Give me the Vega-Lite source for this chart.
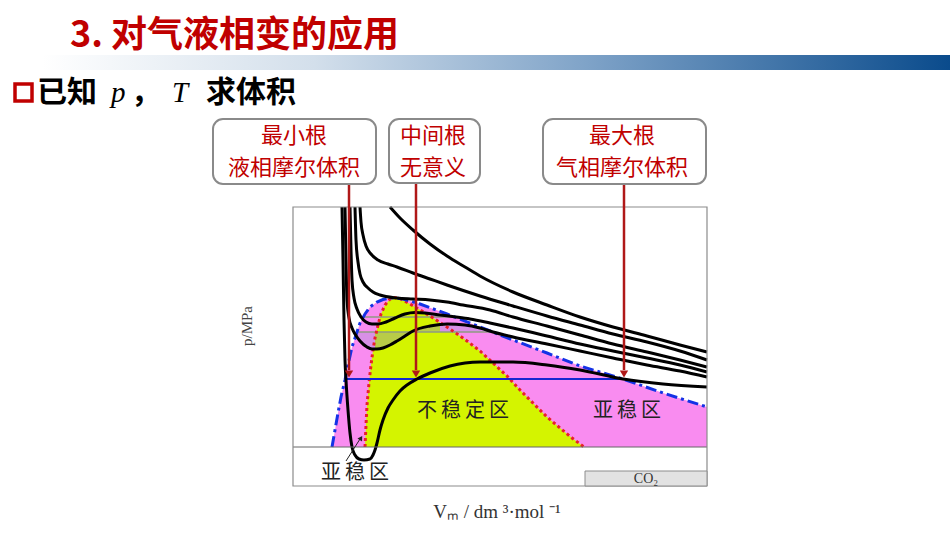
{
  "$schema": "https://vega.github.io/schema/vega-lite/v6.json",
  "width": 950,
  "height": 535,
  "autosize": {"type": "none"},
  "padding": 0,
  "background": "white",
  "config": {"view": {"stroke": null}},
  "datasets": {
    "bar": [{"x": 42, "x2": 950, "y": 55, "y2": 70}],
    "title": [{"x": 70, "y": 36, "t": "3. 对气液相变的应用"}],
    "square": [{"x": 15, "x2": 32, "y": 84, "y2": 101}],
    "subcjk": [{"x": 37, "y": 93, "t": "已知"}, {"x": 131, "y": 93, "t": "，"}, {"x": 206, "y": 93, "t": "求体积"}],
    "subital": [{"x": 111, "y": 93, "t": "p"}, {"x": 172, "y": 93, "t": "T"}],
    "frame": [{"x": 293, "x2": 707, "y": 207, "y2": 486}],
    "env": [
      {"x": 332, "y": 447, "y2": 447}, {"x": 335, "y": 430, "y2": 447}, {"x": 338, "y": 413, "y2": 447},
      {"x": 341, "y": 397, "y2": 447}, {"x": 345, "y": 380, "y2": 447}, {"x": 348, "y": 365, "y2": 447},
      {"x": 352, "y": 347, "y2": 447}, {"x": 357, "y": 332, "y2": 447}, {"x": 360, "y": 323, "y2": 447},
      {"x": 365, "y": 314, "y2": 447}, {"x": 370, "y": 307, "y2": 447}, {"x": 377, "y": 302, "y2": 447},
      {"x": 383, "y": 299.5, "y2": 447}, {"x": 390, "y": 298, "y2": 447}, {"x": 396, "y": 298, "y2": 447},
      {"x": 403, "y": 299, "y2": 447}, {"x": 420, "y": 304, "y2": 447}, {"x": 447, "y": 314, "y2": 447},
      {"x": 480, "y": 327, "y2": 447}, {"x": 513, "y": 340, "y2": 447}, {"x": 547, "y": 353, "y2": 447},
      {"x": 580, "y": 366, "y2": 447}, {"x": 623, "y": 379, "y2": 447}, {"x": 663, "y": 393, "y2": 447},
      {"x": 707, "y": 407, "y2": 447}
    ],
    "spin": [
      {"x": 365, "y": 447, "y2": 447}, {"x": 366, "y": 425, "y2": 447}, {"x": 367, "y": 405, "y2": 447},
      {"x": 369, "y": 383, "y2": 447}, {"x": 371, "y": 365, "y2": 447}, {"x": 373, "y": 350, "y2": 447},
      {"x": 375, "y": 338, "y2": 447}, {"x": 378, "y": 325, "y2": 447}, {"x": 381, "y": 314, "y2": 447},
      {"x": 385, "y": 305, "y2": 447}, {"x": 390, "y": 299, "y2": 447}, {"x": 395, "y": 297.5, "y2": 447},
      {"x": 400, "y": 298.5, "y2": 447}, {"x": 410, "y": 304, "y2": 447}, {"x": 422, "y": 311, "y2": 447},
      {"x": 433, "y": 318, "y2": 447}, {"x": 450, "y": 329, "y2": 447}, {"x": 467, "y": 341, "y2": 447},
      {"x": 480, "y": 351, "y2": 447}, {"x": 493, "y": 363, "y2": 447}, {"x": 507, "y": 376, "y2": 447},
      {"x": 520, "y": 390, "y2": 447}, {"x": 533, "y": 403, "y2": 447}, {"x": 547, "y": 417, "y2": 447},
      {"x": 560, "y": 428, "y2": 447}, {"x": 572, "y": 438, "y2": 447}, {"x": 584, "y": 447, "y2": 447}
    ],
    "hatch": [
      {"seg": "a", "k": "p", "x": 356, "y": 334, "y2": 332}, {"seg": "a", "k": "p", "x": 360, "y": 341, "y2": 332},
      {"seg": "a", "k": "p", "x": 367, "y": 347, "y2": 332}, {"seg": "a", "k": "p", "x": 375, "y": 349, "y2": 332},
      {"seg": "b", "k": "g", "x": 375, "y": 349, "y2": 332}, {"seg": "b", "k": "g", "x": 383, "y": 348, "y2": 332},
      {"seg": "b", "k": "g", "x": 390, "y": 345, "y2": 332}, {"seg": "b", "k": "g", "x": 397, "y": 341, "y2": 332},
      {"seg": "b", "k": "g", "x": 405, "y": 336, "y2": 332}, {"seg": "b", "k": "g", "x": 411, "y": 332, "y2": 332},
      {"seg": "c", "k": "g", "x": 411, "y": 332, "y2": 332}, {"seg": "c", "k": "g", "x": 413, "y": 331, "y2": 332},
      {"seg": "c", "k": "g", "x": 430, "y": 326, "y2": 332}, {"seg": "c", "k": "g", "x": 440, "y": 324.5, "y2": 332},
      {"seg": "d", "k": "p", "x": 440, "y": 324.5, "y2": 332}, {"seg": "d", "k": "p", "x": 447, "y": 324, "y2": 332},
      {"seg": "d", "k": "p", "x": 465, "y": 325, "y2": 332}, {"seg": "d", "k": "p", "x": 480, "y": 328, "y2": 332},
      {"seg": "d", "k": "p", "x": 493, "y": 332, "y2": 332}
    ],
    "maxwell": [{"x": 357, "x2": 493, "y": 332}, {"x": 363, "x2": 456, "y": 317}],
    "blueline": [{"x": 345, "x2": 623, "y": 379}],
    "baseline": [{"x": 293, "x2": 707, "y": 447}],
    "iso": [
      {"iso": 1, "i": 1, "x": 342, "y": 207}, {"iso": 1, "i": 2, "x": 343, "y": 260}, {"iso": 1, "i": 3, "x": 344, "y": 320},
      {"iso": 1, "i": 4, "x": 345, "y": 360}, {"iso": 1, "i": 5, "x": 346, "y": 380}, {"iso": 1, "i": 6, "x": 348, "y": 410},
      {"iso": 1, "i": 7, "x": 350, "y": 433}, {"iso": 1, "i": 8, "x": 352, "y": 447}, {"iso": 1, "i": 9, "x": 355, "y": 455},
      {"iso": 1, "i": 10, "x": 359, "y": 459}, {"iso": 1, "i": 11, "x": 364, "y": 460}, {"iso": 1, "i": 12, "x": 370, "y": 459},
      {"iso": 1, "i": 13, "x": 373, "y": 455}, {"iso": 1, "i": 14, "x": 375, "y": 450}, {"iso": 1, "i": 15, "x": 377, "y": 443},
      {"iso": 1, "i": 16, "x": 380, "y": 430}, {"iso": 1, "i": 17, "x": 383, "y": 420}, {"iso": 1, "i": 18, "x": 388, "y": 408},
      {"iso": 1, "i": 19, "x": 393, "y": 400}, {"iso": 1, "i": 20, "x": 400, "y": 391}, {"iso": 1, "i": 21, "x": 407, "y": 385},
      {"iso": 1, "i": 22, "x": 417, "y": 379}, {"iso": 1, "i": 23, "x": 430, "y": 373}, {"iso": 1, "i": 24, "x": 450, "y": 366},
      {"iso": 1, "i": 25, "x": 480, "y": 362}, {"iso": 1, "i": 26, "x": 513, "y": 362}, {"iso": 1, "i": 27, "x": 547, "y": 365},
      {"iso": 1, "i": 28, "x": 580, "y": 370}, {"iso": 1, "i": 29, "x": 623, "y": 379}, {"iso": 1, "i": 30, "x": 663, "y": 384},
      {"iso": 1, "i": 31, "x": 707, "y": 387},

      {"iso": 2, "i": 1, "x": 345, "y": 207}, {"iso": 2, "i": 2, "x": 346, "y": 260}, {"iso": 2, "i": 3, "x": 347, "y": 300},
      {"iso": 2, "i": 4, "x": 349, "y": 318}, {"iso": 2, "i": 5, "x": 352, "y": 328}, {"iso": 2, "i": 6, "x": 355, "y": 334},
      {"iso": 2, "i": 7, "x": 360, "y": 341}, {"iso": 2, "i": 8, "x": 367, "y": 347}, {"iso": 2, "i": 9, "x": 372, "y": 349},
      {"iso": 2, "i": 10, "x": 377, "y": 349}, {"iso": 2, "i": 11, "x": 383, "y": 348}, {"iso": 2, "i": 12, "x": 390, "y": 345},
      {"iso": 2, "i": 13, "x": 397, "y": 341}, {"iso": 2, "i": 14, "x": 405, "y": 336}, {"iso": 2, "i": 15, "x": 413, "y": 331},
      {"iso": 2, "i": 16, "x": 430, "y": 326}, {"iso": 2, "i": 17, "x": 440, "y": 324.5}, {"iso": 2, "i": 18, "x": 447, "y": 324},
      {"iso": 2, "i": 19, "x": 465, "y": 325}, {"iso": 2, "i": 20, "x": 480, "y": 328}, {"iso": 2, "i": 21, "x": 493, "y": 332},
      {"iso": 2, "i": 22, "x": 513, "y": 337}, {"iso": 2, "i": 23, "x": 547, "y": 344}, {"iso": 2, "i": 24, "x": 580, "y": 351},
      {"iso": 2, "i": 25, "x": 613, "y": 358}, {"iso": 2, "i": 26, "x": 647, "y": 365}, {"iso": 2, "i": 27, "x": 680, "y": 371},
      {"iso": 2, "i": 28, "x": 707, "y": 377},

      {"iso": 3, "i": 1, "x": 350, "y": 207}, {"iso": 3, "i": 2, "x": 351, "y": 250}, {"iso": 3, "i": 3, "x": 352, "y": 280},
      {"iso": 3, "i": 4, "x": 354, "y": 298}, {"iso": 3, "i": 5, "x": 357, "y": 309}, {"iso": 3, "i": 6, "x": 361, "y": 317},
      {"iso": 3, "i": 7, "x": 366, "y": 322}, {"iso": 3, "i": 8, "x": 372, "y": 324}, {"iso": 3, "i": 9, "x": 378, "y": 324},
      {"iso": 3, "i": 10, "x": 386, "y": 322}, {"iso": 3, "i": 11, "x": 395, "y": 318}, {"iso": 3, "i": 12, "x": 405, "y": 314},
      {"iso": 3, "i": 13, "x": 415, "y": 312.5}, {"iso": 3, "i": 14, "x": 425, "y": 313}, {"iso": 3, "i": 15, "x": 440, "y": 315},
      {"iso": 3, "i": 16, "x": 456, "y": 317}, {"iso": 3, "i": 17, "x": 470, "y": 319}, {"iso": 3, "i": 18, "x": 490, "y": 323},
      {"iso": 3, "i": 19, "x": 513, "y": 328}, {"iso": 3, "i": 20, "x": 547, "y": 336}, {"iso": 3, "i": 21, "x": 580, "y": 344},
      {"iso": 3, "i": 22, "x": 613, "y": 351}, {"iso": 3, "i": 23, "x": 647, "y": 358}, {"iso": 3, "i": 24, "x": 680, "y": 365},
      {"iso": 3, "i": 25, "x": 707, "y": 372},

      {"iso": 4, "i": 1, "x": 355, "y": 207}, {"iso": 4, "i": 2, "x": 356, "y": 240}, {"iso": 4, "i": 3, "x": 358, "y": 262},
      {"iso": 4, "i": 4, "x": 360, "y": 274}, {"iso": 4, "i": 5, "x": 363, "y": 282}, {"iso": 4, "i": 6, "x": 368, "y": 288},
      {"iso": 4, "i": 7, "x": 373, "y": 292}, {"iso": 4, "i": 8, "x": 380, "y": 295}, {"iso": 4, "i": 9, "x": 397, "y": 298},
      {"iso": 4, "i": 10, "x": 413, "y": 299}, {"iso": 4, "i": 11, "x": 430, "y": 300}, {"iso": 4, "i": 12, "x": 447, "y": 302},
      {"iso": 4, "i": 13, "x": 463, "y": 305}, {"iso": 4, "i": 14, "x": 490, "y": 310}, {"iso": 4, "i": 15, "x": 513, "y": 317},
      {"iso": 4, "i": 16, "x": 547, "y": 326}, {"iso": 4, "i": 17, "x": 580, "y": 335}, {"iso": 4, "i": 18, "x": 613, "y": 344},
      {"iso": 4, "i": 19, "x": 647, "y": 352}, {"iso": 4, "i": 20, "x": 680, "y": 360}, {"iso": 4, "i": 21, "x": 707, "y": 367},

      {"iso": 5, "i": 1, "x": 360, "y": 207}, {"iso": 5, "i": 2, "x": 361, "y": 222}, {"iso": 5, "i": 3, "x": 363, "y": 235},
      {"iso": 5, "i": 4, "x": 366, "y": 246}, {"iso": 5, "i": 5, "x": 371, "y": 254}, {"iso": 5, "i": 6, "x": 378, "y": 260},
      {"iso": 5, "i": 7, "x": 388, "y": 264}, {"iso": 5, "i": 8, "x": 397, "y": 267}, {"iso": 5, "i": 9, "x": 413, "y": 273},
      {"iso": 5, "i": 10, "x": 430, "y": 279}, {"iso": 5, "i": 11, "x": 447, "y": 285}, {"iso": 5, "i": 12, "x": 480, "y": 296},
      {"iso": 5, "i": 13, "x": 513, "y": 306}, {"iso": 5, "i": 14, "x": 547, "y": 316}, {"iso": 5, "i": 15, "x": 580, "y": 325},
      {"iso": 5, "i": 16, "x": 613, "y": 334}, {"iso": 5, "i": 17, "x": 647, "y": 342}, {"iso": 5, "i": 18, "x": 680, "y": 351},
      {"iso": 5, "i": 19, "x": 707, "y": 360},

      {"iso": 6, "i": 1, "x": 390, "y": 207}, {"iso": 6, "i": 2, "x": 400, "y": 218}, {"iso": 6, "i": 3, "x": 413, "y": 230},
      {"iso": 6, "i": 4, "x": 430, "y": 244}, {"iso": 6, "i": 5, "x": 447, "y": 256}, {"iso": 6, "i": 6, "x": 465, "y": 267},
      {"iso": 6, "i": 7, "x": 480, "y": 276}, {"iso": 6, "i": 8, "x": 513, "y": 292}, {"iso": 6, "i": 9, "x": 547, "y": 305},
      {"iso": 6, "i": 10, "x": 580, "y": 317}, {"iso": 6, "i": 11, "x": 613, "y": 327}, {"iso": 6, "i": 12, "x": 647, "y": 336},
      {"iso": 6, "i": 13, "x": 680, "y": 345}, {"iso": 6, "i": 14, "x": 707, "y": 352}
    ],
    "co2box": [{"x": 585, "x2": 707, "y": 471, "y2": 486}],
    "co2text": [{"x": 646, "y": 479, "t": "CO₂"}],
    "figlabels": [
      {"x": 463, "y": 411, "t": "不\u2009稳\u2009定\u2009区"},
      {"x": 627, "y": 411, "t": "亚\u2009稳\u2009区"},
      {"x": 355, "y": 473, "t": "亚\u2009稳\u2009区"}
    ],
    "leader": [{"x": 346, "y": 461, "x2": 360, "y2": 439}],
    "leaderhead": [{"x": 361, "y": 438}],
    "arrows": [{"x": 349, "y": 184, "y2": 370}, {"x": 416, "y": 183, "y2": 370}, {"x": 624, "y": 184, "y2": 370}],
    "arrowheads": [{"x": 349, "y": 374}, {"x": 416, "y": 374}, {"x": 624, "y": 374}],
    "boxes": [
      {"x": 213, "x2": 376, "y": 119, "y2": 184},
      {"x": 389, "x2": 480, "y": 119, "y2": 183},
      {"x": 543, "x2": 706, "y": 119, "y2": 184}
    ],
    "boxtext": [
      {"x": 294, "y": 136, "t": "最小根"}, {"x": 294, "y": 168, "t": "液相摩尔体积"},
      {"x": 433, "y": 136, "t": "中间根"}, {"x": 433, "y": 168, "t": "无意义"},
      {"x": 622, "y": 136, "t": "最大根"}, {"x": 622, "y": 168, "t": "气相摩尔体积"}
    ],
    "ylab": [{"x": 247, "y": 326, "t": "p/MPa"}],
    "xlab": [{"x": 497, "y": 512, "t": "Vₘ / dm ³·mol ⁻¹"}]
  },
  "encoding": {
    "x": {"field": "x", "type": "quantitative", "scale": {"domain": [0, 950], "nice": false, "zero": false}, "axis": null},
    "y": {"field": "y", "type": "quantitative", "scale": {"domain": [0, 535], "reverse": true, "nice": false, "zero": false}, "axis": null}
  },
  "layer": [
    {
      "data": {"name": "bar"},
      "mark": {"type": "rect", "fill": {"gradient": "linear", "x1": 0, "y1": 0, "x2": 1, "y2": 0,
        "stops": [{"offset": 0, "color": "#ffffff"}, {"offset": 0.3, "color": "#d3dfeb"}, {"offset": 0.6, "color": "#7fa3c8"}, {"offset": 1, "color": "#0a4b8c"}]}},
      "encoding": {"x2": {"field": "x2"}, "y2": {"field": "y2"}}
    },
    {
      "data": {"name": "title"},
      "mark": {"type": "text", "align": "left", "baseline": "middle", "font": "Noto Sans CJK SC", "fontSize": 36, "fontWeight": "bold", "color": "#C00000"},
      "encoding": {"text": {"field": "t"}}
    },
    {
      "data": {"name": "square"},
      "mark": {"type": "rect", "fill": "white", "stroke": "#C00000", "strokeWidth": 3.5},
      "encoding": {"x2": {"field": "x2"}, "y2": {"field": "y2"}}
    },
    {
      "data": {"name": "subcjk"},
      "mark": {"type": "text", "align": "left", "baseline": "middle", "font": "Noto Sans CJK SC", "fontSize": 30, "fontWeight": "bold", "color": "#000000"},
      "encoding": {"text": {"field": "t"}}
    },
    {
      "data": {"name": "subital"},
      "mark": {"type": "text", "align": "left", "baseline": "middle", "font": "Liberation Serif", "fontSize": 29, "fontStyle": "italic", "color": "#000000"},
      "encoding": {"text": {"field": "t"}}
    },
    {
      "data": {"name": "env"},
      "mark": {"type": "area", "color": "#F98CF0", "opacity": 1},
      "encoding": {"y2": {"field": "y2"}}
    },
    {
      "data": {"name": "spin"},
      "mark": {"type": "area", "color": "#D4F400", "opacity": 1},
      "encoding": {"y2": {"field": "y2"}}
    },
    {
      "data": {"name": "hatch"},
      "mark": {"type": "area", "opacity": 1},
      "encoding": {
        "y2": {"field": "y2"},
        "detail": {"field": "seg"},
        "color": {"field": "k", "type": "nominal", "scale": {"domain": ["p", "g"], "range": ["#D890E6", "#B8CC48"]}, "legend": null}
      }
    },
    {
      "data": {"name": "maxwell"},
      "mark": {"type": "rule", "color": "#8f9a82", "strokeWidth": 1.3},
      "encoding": {"x2": {"field": "x2"}}
    },
    {
      "data": {"name": "spin"},
      "mark": {"type": "line", "color": "#E8202A", "strokeWidth": 3, "strokeDash": [3, 3]},
      "encoding": {}
    },
    {
      "data": {"name": "env"},
      "mark": {"type": "line", "color": "#1432E6", "strokeWidth": 3, "strokeDash": [11, 4, 3, 4]},
      "encoding": {}
    },
    {
      "data": {"name": "blueline"},
      "mark": {"type": "rule", "color": "#1428D0", "strokeWidth": 1.8},
      "encoding": {"x2": {"field": "x2"}}
    },
    {
      "data": {"name": "iso"},
      "mark": {"type": "line", "color": "#000000", "strokeWidth": 3, "interpolate": "monotone"},
      "encoding": {"detail": {"field": "iso"}, "order": {"field": "i", "type": "quantitative"}}
    },
    {
      "data": {"name": "baseline"},
      "mark": {"type": "rule", "color": "#666666", "strokeWidth": 1},
      "encoding": {"x2": {"field": "x2"}}
    },
    {
      "data": {"name": "frame"},
      "mark": {"type": "rect", "fill": null, "fillOpacity": 0, "stroke": "#8c8c8c", "strokeWidth": 1.2},
      "encoding": {"x2": {"field": "x2"}, "y2": {"field": "y2"}}
    },
    {
      "data": {"name": "co2box"},
      "mark": {"type": "rect", "fill": "#e2e2e2", "stroke": "#8c8c8c", "strokeWidth": 1},
      "encoding": {"x2": {"field": "x2"}, "y2": {"field": "y2"}}
    },
    {
      "data": {"name": "co2text"},
      "mark": {"type": "text", "align": "center", "baseline": "middle", "font": "Liberation Serif", "fontSize": 14, "color": "#333333"},
      "encoding": {"text": {"field": "t"}}
    },
    {
      "data": {"name": "figlabels"},
      "mark": {"type": "text", "align": "center", "baseline": "middle", "font": "Noto Sans CJK SC", "fontSize": 20, "color": "#222222"},
      "encoding": {"text": {"field": "t"}}
    },
    {
      "data": {"name": "leader"},
      "mark": {"type": "rule", "color": "#222222", "strokeWidth": 1},
      "encoding": {"x2": {"field": "x2"}, "y2": {"field": "y2"}}
    },
    {
      "data": {"name": "leaderhead"},
      "mark": {"type": "point", "shape": "triangle-up", "angle": 32, "size": 30, "filled": true, "color": "#222222", "opacity": 1},
      "encoding": {}
    },
    {
      "data": {"name": "arrows"},
      "mark": {"type": "rule", "color": "#B01818", "strokeWidth": 2.5},
      "encoding": {"y2": {"field": "y2"}}
    },
    {
      "data": {"name": "arrowheads"},
      "mark": {"type": "point", "shape": "triangle-down", "size": 70, "filled": true, "color": "#B01818", "opacity": 1},
      "encoding": {}
    },
    {
      "data": {"name": "boxes"},
      "mark": {"type": "rect", "fill": "white", "stroke": "#8a8a8a", "strokeWidth": 2, "cornerRadius": 10},
      "encoding": {"x2": {"field": "x2"}, "y2": {"field": "y2"}}
    },
    {
      "data": {"name": "boxtext"},
      "mark": {"type": "text", "align": "center", "baseline": "middle", "font": "Noto Sans CJK SC", "fontSize": 22, "color": "#C00000"},
      "encoding": {"text": {"field": "t"}}
    },
    {
      "data": {"name": "ylab"},
      "mark": {"type": "text", "align": "center", "baseline": "middle", "angle": 270, "font": "Liberation Serif", "fontSize": 15, "color": "#444444"},
      "encoding": {"text": {"field": "t"}}
    },
    {
      "data": {"name": "xlab"},
      "mark": {"type": "text", "align": "center", "baseline": "middle", "font": "Liberation Serif", "fontSize": 19, "color": "#333333"},
      "encoding": {"text": {"field": "t"}}
    }
  ]
}
